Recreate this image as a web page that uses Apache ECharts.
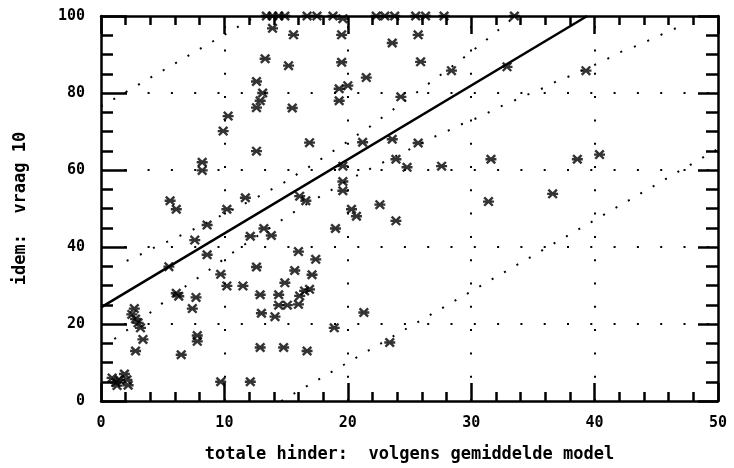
<!DOCTYPE html>
<html>
<head>
<meta charset="utf-8">
<script src="https://cdn.jsdelivr.net/npm/echarts@6/dist/echarts.min.js"></script>
<style>
  html, body { margin: 0; padding: 0; background: #fff; }
  #chart { width: 734px; height: 468px; }
</style>
</head>
<body>
<div id="chart"></div>
<script>
// ---- axis ticks ----
const xTicks = [0, 10, 20, 30, 40, 50];
const yTicks = [0, 20, 40, 60, 80, 100];
// ---- dotted reference grid positions ----
const gridX = [10, 20, 30, 40];
const gridY = [20, 40, 60, 80];

// ---- observations: [totale hinder (model), idem vraag 10] ----
const observations = [
  [13.4,100],[13.9,100],[14.4,100],[14.9,100],[16.7,100],[17.5,100],[18.8,100],[19.6,99.3],
  [22.3,100],[23.0,100],[23.8,100],[25.5,100],[26.3,100],[27.8,100],[33.5,100],
  [13.9,96.8],[15.6,95.1],[19.5,95.1],[25.7,95.1],[23.6,93.0],[13.3,88.9],[15.2,87.1],[19.5,88.0],
  [25.9,88.1],[28.4,85.8],[32.9,86.8],[39.3,85.8],[21.5,84.0],[12.6,83.0],[24.3,79.0],[19.3,81.1],
  [20.0,81.9],[13.1,80.0],[12.9,78.0],[12.6,76.2],[15.5,76.1],[19.3,78.0],[10.3,74.0],[9.9,70.1],
  [16.9,67.1],[21.2,67.2],[23.6,68.0],[25.7,67.0],[12.6,64.9],[8.2,62.0],[8.2,59.9],[19.6,61.0],
  [23.9,62.8],[24.8,60.7],[27.6,61.0],[31.6,62.8],[38.6,62.8],[40.4,64.0],[19.6,57.0],[19.6,54.6],
  [16.1,53.2],[16.6,52.0],[11.7,52.8],[5.6,52.0],[6.1,49.8],[10.2,49.8],[20.3,49.8],[20.7,48.0],
  [22.6,51.0],[23.9,46.8],[31.4,51.8],[36.6,53.8],[8.6,45.7],[13.2,44.8],[13.8,43.0],[12.1,42.8],
  [19.0,44.8],[7.6,41.8],[8.6,38.0],[16.0,38.8],[17.4,36.8],[5.5,34.9],[12.6,34.8],[15.7,33.9],
  [9.7,32.9],[17.1,32.8],[14.9,30.7],[10.2,29.9],[11.5,29.9],[6.1,28.0],[6.3,27.2],[7.7,26.9],
  [12.9,27.6],[14.4,27.6],[16.1,27.3],[16.5,28.6],[16.9,29.0],[7.4,24.0],[14.4,24.9],[15.1,24.9],
  [16.0,25.1],[13.0,22.8],[14.1,21.9],[21.3,23.0],[18.9,19.0],[7.8,17.0],[7.8,15.5],[6.5,12.0],
  [12.9,13.9],[14.8,13.9],[16.7,13.0],[23.4,15.2],[9.7,5.0],[12.1,5.0],
  [2.7,24.0],[2.5,22.5],[2.8,21.3],[3.0,20.3],[3.2,19.0],[3.4,16.0],[2.8,13.0],
  [0.9,6.0],[1.2,4.8],[1.5,5.5],[1.9,7.0],[2.1,5.5],[2.2,4.1],[1.3,4.0]
];

// ---- fitted line (solid) ----
const regressionLine = [[0, 24.3], [39.4, 100]];

// ---- confidence band of the fitted line (dotted curves) ----
const bandUpper = [
  [2.08,36.4],[3.1,37.9],[4.0,39.4],[5.05,40.9],[6.05,42.4],[7.07,43.9],[8.0,45.4],[9.0,47.0],
  [10.0,48.6],[11.05,50.3],[12.1,52.0],[13.1,53.7],[14.05,55.4],[15.1,57.2],[16.07,59.3],
  [17.07,61.2],[18.0,63.2],[19.05,65.4],[20.04,67.5],[21.04,69.7],[22.04,71.8],[23.0,74.2],
  [24.0,76.4],[25.0,78.8],[26.0,81.1],[27.0,83.5],[28.0,85.8],[29.0,88.2],[30.0,90.7],
  [31.0,93.2],[31.95,95.7],[32.9,98.2],[33.6,100]
];
const bandLower = [
  [1.08,16.1],[2.1,18.4],[3.2,21.0],[4.05,23.1],[5.05,25.6],[6.05,27.9],[7.07,30.3],[8.1,32.5],
  [9.1,34.8],[10.05,37.1],[11.05,39.4],[12.1,41.6],[13.1,43.8],[14.1,45.8],[15.1,48.0],
  [16.1,50.0],[17.07,51.9],[18.07,53.7],[19.1,55.6],[20.0,57.3],[21.0,59.0],[22.07,60.7],
  [23.0,62.2],[24.0,63.8],[25.04,65.4],[26.0,67.0],[27.0,68.6],[28.0,70.0],[29.0,71.6],
  [30.0,72.9],[31.0,74.2],[32.0,76.0],[33.0,77.3],[34.0,78.8],[35.0,80.2],[36.0,81.5],
  [37.0,83.2],[38.0,84.4],[39.0,85.9],[40.0,87.3],[40.9,88.6],[41.9,90.4],[42.9,91.6],
  [43.9,92.9],[44.9,94.5],[45.9,95.8],[46.9,97.3]
];

// ---- prediction limits (outer dotted straight lines) ----
const limitUpper = [[0, 76.5], [12.6, 100]];
const limitLower = [[14.6, 0], [50, 65.5]];

const X_TITLE = 'totale hinder:  volgens gemiddelde model';
const Y_TITLE = 'idem:  vraag 10';

const FONT = 'DejaVu Sans Mono';
const INK = '#000';
const starPath = 'path://M1,8L19,8L19,12L1,12Z M4.41,1.59L18.41,15.59L15.59,18.41L1.59,4.41Z M18.41,4.41L4.41,18.41L1.59,15.59L15.59,1.59Z';

const chart = echarts.init(document.getElementById('chart'), null, { renderer: 'canvas' });

function boxAxis(extra) {
  return Object.assign({
    type: 'value',
    axisLine: { show: true, onZero: false, lineStyle: { color: INK, width: 2.5 } },
    axisTick: { show: true, inside: true, lineStyle: { color: INK, width: 2.5 } },
    minorTick: { show: true, lineStyle: { color: INK, width: 2.5 } },
    splitLine: { show: false },
    axisLabel: { show: false }
  }, extra);
}

const labelStyle = (margin) => ({ show: true, margin: margin, color: INK, fontFamily: FONT, fontWeight: 'bold', fontSize: 15 });
const nameStyle = { color: INK, fontFamily: FONT, fontWeight: 'bold', fontSize: 17 };

const gridMarks = gridX.map(v => ({ xAxis: v })).concat(gridY.map(v => ({ yAxis: v })));

const option = {
  animation: false,
  backgroundColor: '#fff',
  grid: { left: 101, right: 16, top: 16, bottom: 65, show: false },
  xAxis: [
    boxAxis({
      position: 'bottom', min: xTicks[0], max: xTicks[xTicks.length - 1], interval: xTicks[1] - xTicks[0],
      axisTick: { show: true, inside: true, length: 18, lineStyle: { color: INK, width: 2.5 } },
      minorTick: { show: true, splitNumber: 5, length: 9, lineStyle: { color: INK, width: 2.5 } },
      axisLabel: labelStyle(15),
      name: X_TITLE, nameLocation: 'middle', nameGap: 45, nameTextStyle: nameStyle
    }),
    boxAxis({
      position: 'top', min: xTicks[0], max: xTicks[xTicks.length - 1], interval: xTicks[1] - xTicks[0],
      axisTick: { show: true, inside: true, length: 18, lineStyle: { color: INK, width: 2.5 } },
      minorTick: { show: true, splitNumber: 5, length: 9, lineStyle: { color: INK, width: 2.5 } }
    })
  ],
  yAxis: [
    boxAxis({
      position: 'left', min: yTicks[0], max: yTicks[yTicks.length - 1], interval: yTicks[1] - yTicks[0],
      axisTick: { show: true, inside: true, length: 26, lineStyle: { color: INK, width: 2.5 } },
      minorTick: { show: true, splitNumber: 4, length: 12, lineStyle: { color: INK, width: 2.5 } },
      axisLabel: labelStyle(16),
      name: Y_TITLE, nameLocation: 'middle', nameGap: 72, nameTextStyle: nameStyle
    }),
    boxAxis({
      position: 'right', min: yTicks[0], max: yTicks[yTicks.length - 1], interval: yTicks[1] - yTicks[0],
      axisTick: { show: true, inside: true, length: 20, lineStyle: { color: INK, width: 2.5 } },
      minorTick: { show: true, splitNumber: 4, length: 12, lineStyle: { color: INK, width: 2.5 } }
    })
  ],
  series: [
    { type: 'line', name: 'limit upper', data: limitUpper, symbol: 'none', silent: true,
      lineStyle: { color: INK, width: 2, type: [2, 12.3] } },
    { type: 'line', name: 'limit lower', data: limitLower, symbol: 'none', silent: true,
      lineStyle: { color: INK, width: 2, type: [2, 12.3] } },
    { type: 'line', name: 'band upper', data: bandUpper, symbol: 'none', silent: true,
      lineStyle: { color: INK, width: 2, type: [2, 12.6] } },
    { type: 'line', name: 'band lower', data: bandLower, symbol: 'none', silent: true,
      lineStyle: { color: INK, width: 2, type: [2, 12.6] } },
    { type: 'line', name: 'regression', data: regressionLine, symbol: 'none', silent: true,
      lineStyle: { color: INK, width: 2.5 },
      markLine: {
        silent: true, symbol: ['none', 'none'], label: { show: false },
        lineStyle: { color: INK, width: 2, type: [2, 21.3] },
        emphasis: { disabled: true },
        data: gridMarks
      } },
    { type: 'scatter', name: 'observations', data: observations, clip: false, z: 5,
      symbol: starPath, symbolSize: [11, 10], itemStyle: { color: INK } }
  ]
};
chart.setOption(option);
</script>
</body>
</html>
